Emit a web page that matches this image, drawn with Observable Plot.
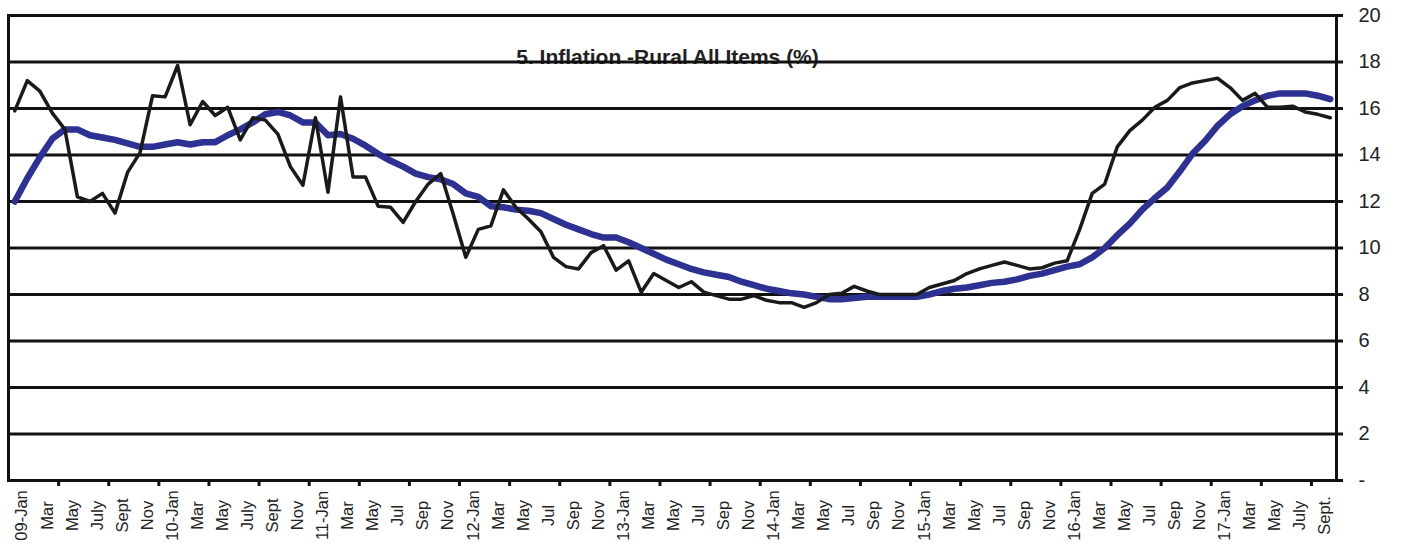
<!DOCTYPE html>
<html><head><meta charset="utf-8">
<script src="https://cdn.jsdelivr.net/npm/d3@7"></script>
<script src="https://cdn.jsdelivr.net/npm/@observablehq/plot@0.6"></script>
<style>
html,body{margin:0;padding:0;background:#fff;}
#chart svg{display:block;}
</style></head><body><div id="chart"></div>
<script>
const title = "5. Inflation -Rural All Items (%)";

const tickLabels = [
  "09-Jan","Mar","May","July","Sept","Nov",
  "10-Jan","Mar","May","July","Sept","Nov",
  "11-Jan","Mar","May","Jul","Sep","Nov",
  "12-Jan","Mar","May","Jul","Sep","Nov",
  "13-Jan","Mar","May","Jul","Sep","Nov",
  "14-Jan","Mar","May","Jul","Sep","Nov",
  "15-Jan","Mar","May","Jul","Sep","Nov",
  "16-Jan","Mar","May","Jul","Sep","Nov",
  "17-Jan","Mar","May","July","Sept."
];

// Monthly rural inflation, Jan 2009 .. Oct 2017 (black line)
const inflation = [
  15.9,17.2,16.75,15.8,15.1,12.2,12.0,12.35,11.5,13.25,14.1,16.55,
  16.5,17.85,15.3,16.3,15.7,16.05,14.65,15.6,15.5,14.9,13.5,12.7,
  15.6,12.4,16.5,13.05,13.05,11.8,11.75,11.1,12.0,12.75,13.2,11.45,
  9.6,10.8,10.95,12.5,11.75,11.25,10.7,9.6,9.2,9.1,9.8,10.1,
  9.05,9.45,8.1,8.9,8.6,8.3,8.55,8.1,7.95,7.8,7.8,7.95,
  7.75,7.65,7.65,7.45,7.65,8.0,8.05,8.35,8.15,8.0,8.0,8.0,
  8.0,8.3,8.45,8.6,8.9,9.1,9.25,9.4,9.25,9.1,9.15,9.35,
  9.45,10.8,12.35,12.75,14.35,15.05,15.5,16.05,16.35,16.9,17.1,17.2,
  17.3,16.9,16.35,16.65,16.05,16.05,16.1,15.85,15.75,15.6
];

// Moving average (blue line)
const movingAverage = [
  12.0,13.0,13.9,14.7,15.1,15.1,14.85,14.75,14.65,14.5,14.35,14.35,
  14.45,14.55,14.45,14.55,14.55,14.85,15.1,15.4,15.75,15.85,15.7,15.4,
  15.4,14.85,14.9,14.7,14.4,14.05,13.75,13.5,13.2,13.05,12.95,12.75,
  12.35,12.2,11.8,11.75,11.65,11.6,11.5,11.25,11.0,10.8,10.6,10.45,
  10.45,10.25,10.0,9.75,9.5,9.3,9.1,8.95,8.85,8.75,8.55,8.4,
  8.25,8.15,8.05,8.0,7.9,7.8,7.8,7.85,7.9,7.9,7.9,7.9,
  7.9,8.0,8.15,8.25,8.3,8.4,8.5,8.55,8.65,8.8,8.9,9.05,
  9.2,9.3,9.6,10.0,10.55,11.05,11.65,12.15,12.6,13.3,14.05,14.6,
  15.25,15.75,16.1,16.35,16.55,16.65,16.65,16.65,16.55,16.4
];

const yTicks = [0,2,4,6,8,10,12,14,16,18,20];

const rows = inflation.map((v, i) => ({i, inflation: v, avg: movingAverage[i]}));
const labelIdx = tickLabels.map((_, k) => 2 * k);
const boundaries = d3.range(4, inflation.length, 4).map(i => i - 0.5);

const chart = Plot.plot({
  width: 1401, height: 549,
  marginLeft: 8, marginRight: 65, marginTop: 15, marginBottom: 69,
  style: {fontFamily: "'Liberation Sans', Arial, sans-serif", background: "#fff", color: "#222"},
  x: {type: "linear", domain: [-0.5, inflation.length - 0.5], label: null},
  y: {domain: [0, 20], label: null},
  marks: [
    Plot.text([title], {frameAnchor: "top", dy: 48, dx: -5, lineAnchor: "bottom", fontSize: 21, fontWeight: "bold", fill: "#222"}),
    Plot.ruleY(yTicks.filter(d => d > 0 && d < 20), {stroke: "#111", strokeWidth: 3}),
    Plot.frame({stroke: "#111", strokeWidth: 3}),
    Plot.axisY(yTicks, {anchor: "right", tickSize: 6, tickPadding: 16, textAnchor: "start",
      tickFormat: d => d === 0 ? "-" : d, fontSize: 20, stroke: "#111", strokeWidth: 3, fill: "#222", label: null}),
    Plot.axisX(boundaries, {anchor: "bottom", tickSize: 6, tickFormat: () => "", stroke: "#111", strokeWidth: 3, label: null}),
    Plot.axisX(labelIdx, {anchor: "bottom", tickSize: 0, tickPadding: 20, rotate: -90, dx: 1, dy: 15,
      tickFormat: d => tickLabels[d / 2], fontSize: 16.5, fill: "#222", label: null}),
    Plot.line(rows, {x: "i", y: "avg", stroke: "#2d3192", strokeWidth: 6.5}),
    Plot.line(rows, {x: "i", y: "inflation", stroke: "#1a1a1a", strokeWidth: 3.5})
  ]
});
document.getElementById("chart").append(chart);
</script>
</body></html>
